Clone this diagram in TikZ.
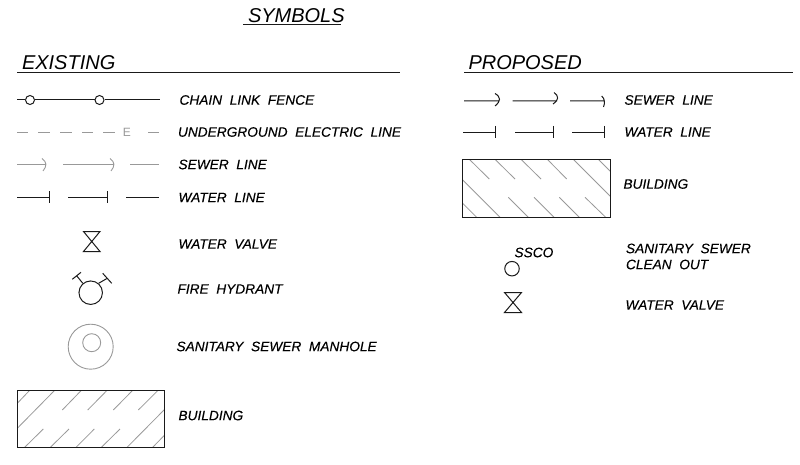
\documentclass[tikz,border=0pt]{standalone}
\usepackage{fontspec}
\setmainfont[ItalicFeatures={FakeBold=0.25}]{Liberation Sans}
\newfontfamily\headfont{Liberation Sans}
\usepackage{xcolor}
\definecolor{lineblack}{HTML}{1A1A1A}
\definecolor{linegray}{HTML}{999999}

\begin{document}
\begin{tikzpicture} [x=1pt, y=-1pt, line width=1pt, color=lineblack
  , lbl/.style={anchor=west,inner sep=0pt,font=\fontsize{13.7}{14}\selectfont\itshape,text=black}
  , head/.style={anchor=west,inner sep=0pt,font=\fontsize{20}{21}\selectfont\headfont\itshape,text=black}
  , post/.style={draw,circle,inner sep=0pt,minimum size=9pt,fill=white}
  , ghost/.style={draw=linegray,line width=0.9pt}
  , hatching/.style={draw=linegray,line width=0.8pt}
]
  \useasboundingbox (0,0) rectangle (800,465);

  % titles
  \node[head] (symbols) at (247.5,15.5) {SYMBOLS};
  \node[head] (existing) at (21.5,63) {EXISTING};
  \node[head] (proposed) at (468,63) {PROPOSED};
  \draw (243,24.5) -- (341,24.5);
  \draw (17,72.5) -- (400,72.5);
  \draw (464,72.5) -- (793,72.5);

  % labels, existing
  \node[lbl] (fence) at (179,100) {CHAIN~~LINK~~FENCE};
  \node[lbl] (electric) at (177.5,132) {UNDERGROUND~~ELECTRIC~~LINE};
  \node[lbl] (sewer) at (178,164.5) {SEWER~~LINE};
  \node[lbl] (water) at (178,197.5) {WATER~~LINE};
  \node[lbl] (valve) at (178,244) {WATER~~VALVE};
  \node[lbl] (hydrant) at (177,289) {FIRE~~HYDRANT};
  \node[lbl] (manhole) at (176,346.5) {SANITARY~~SEWER~~MANHOLE};
  \node[lbl] (building) at (178,415.5) {BUILDING};

  % labels, proposed
  \node[lbl] (psewer) at (624,100) {SEWER~~LINE};
  \node[lbl] (pwater) at (624,132) {WATER~~LINE};
  \node[lbl] (pbuilding) at (623,184) {BUILDING};
  \node[lbl] (cleanA) at (625.5,248.5) {SANITARY~~SEWER};
  \node[lbl] (cleanB) at (625.5,264.5) {CLEAN~~OUT};
  \node[lbl] (pvalve) at (625,305) {WATER~~VALVE};
  \node[lbl] (ssco) at (514,252.5) {SSCO};

  % fence
  \coordinate (f0) at (17,100);
  \coordinate (f1) at (160,100);
  \node[post] (fa) at (30,100) {};
  \node[post] (fb) at (99.5,100) {};
  \path (f0) edge (fa) (fa) edge (fb) (fb) edge (f1);

  % electric
  \foreach \a/\b in {17/28,38/50,60/72,82/93,103/115,148/159}
    \draw[ghost] (\a,132.5) -- (\b,132.5);
  \node[inner sep=0pt,text=linegray,font=\fontsize{12}{13}\selectfont] (elec) at (127,132.5) {E};

  % sewer, existing
  \foreach \a/\b in {17/42,63/110}
    \draw[ghost] (\a,164.5) -- (\b+3.5,164.5) (\b,158.5) .. controls (\b+5,162) and (\b+5,166) .. (\b+1,171);
  \draw[ghost] (130,164.5) -- (159,164.5);

  % water, existing
  \foreach \a/\b in {17/49.5,68/107}
    \draw (\a,197.5) -- (\b,197.5) (\b,191.5) -- (\b,203.5);
  \draw (126,197.5) -- (159,197.5);

  % valves
  \draw (83.5,231.5) -- (100,231.5) -- (83.5,251.5) -- (100,251.5) -- cycle;
  \draw (504.5,292.5) -- (521.5,292.5) -- (504.5,312.5) -- (521.5,312.5) -- cycle;

  % hydrant
  \node[draw,circle,inner sep=0pt,minimum size=23.5pt] (hyd) at (90.7,292.7) {};
  \draw (72.3,279.3) -- (81,272.3) (76.7,275.8) -- (hyd.130);
  \draw (102.7,273.3) -- (111.7,283.3) (107.3,278.3) -- (hyd.50);

  % manhole
  \node[ghost,circle,inner sep=0pt,minimum size=45pt] (mhouter) at (90.7,346.7) {};
  \node[ghost,circle,inner sep=0pt,minimum size=18pt] (mhinner) at (91.7,342.7) {};

  % building, existing
  \foreach \a/\b/\c/\d in {17.3/403.3/29.3/390.7,17.3/428.3/54.3/390.7,62.3/410/81/390.7,87.7/410/106.7/390.7,113.3/410/132.3/390.7,138.3/410/157.7/390.7,24.3/447.7/43.3/429,50/447.7/69/429,75.7/447.7/94.3/429,101/447.7/120/429,126.7/447.7/164.7/409.3,152.3/447.7/164.7/435}
    \draw[hatching] (\a,\b) -- (\c,\d);
  \draw (17.3,390.3) rectangle (164.7,447.7);

  % sewer, proposed
  \draw (464,101) -- (499.5,101) (495,93.5) .. controls (501,97) and (501,101) .. (495,106);
  \draw (512.7,101) -- (557,101) (554,92.5) .. controls (559,96) and (559,100) .. (553,104);
  \draw (570,101) -- (604.5,101) (601.7,96) .. controls (605,99) and (605,103) .. (603.5,107);

  % water, proposed
  \foreach \a/\b in {463.3/495,515.3/553.3,572/604}
    \draw (\a,132.3) -- (\b,132.3) (\b,126) -- (\b,138.3);

  % building, proposed
  \foreach \a/\b/\c/\d in {469.3/159.3/489.3/179,495/159.3/515/179,521/159.3/541/179,547.3/159.3/566.7/179,573.3/159.3/610.7/196.7,598.3/159.3/610.7/171.7,462.7/180/500/217.3,462.7/203.3/476.7/217.3,508.3/197.3/528.3/217.3,534/197.3/554/217.3,559.3/197.3/579.3/217.3,585/197.3/605.7/217.3}
    \draw[hatching] (\a,\b) -- (\c,\d);
  \draw (462.7,159.3) rectangle (610.7,217.3);

  % clean out
  \node[draw,circle,inner sep=0pt,minimum size=14.5pt] (sscocirc) at (512,268.7) {};
\end{tikzpicture}
\end{document}
